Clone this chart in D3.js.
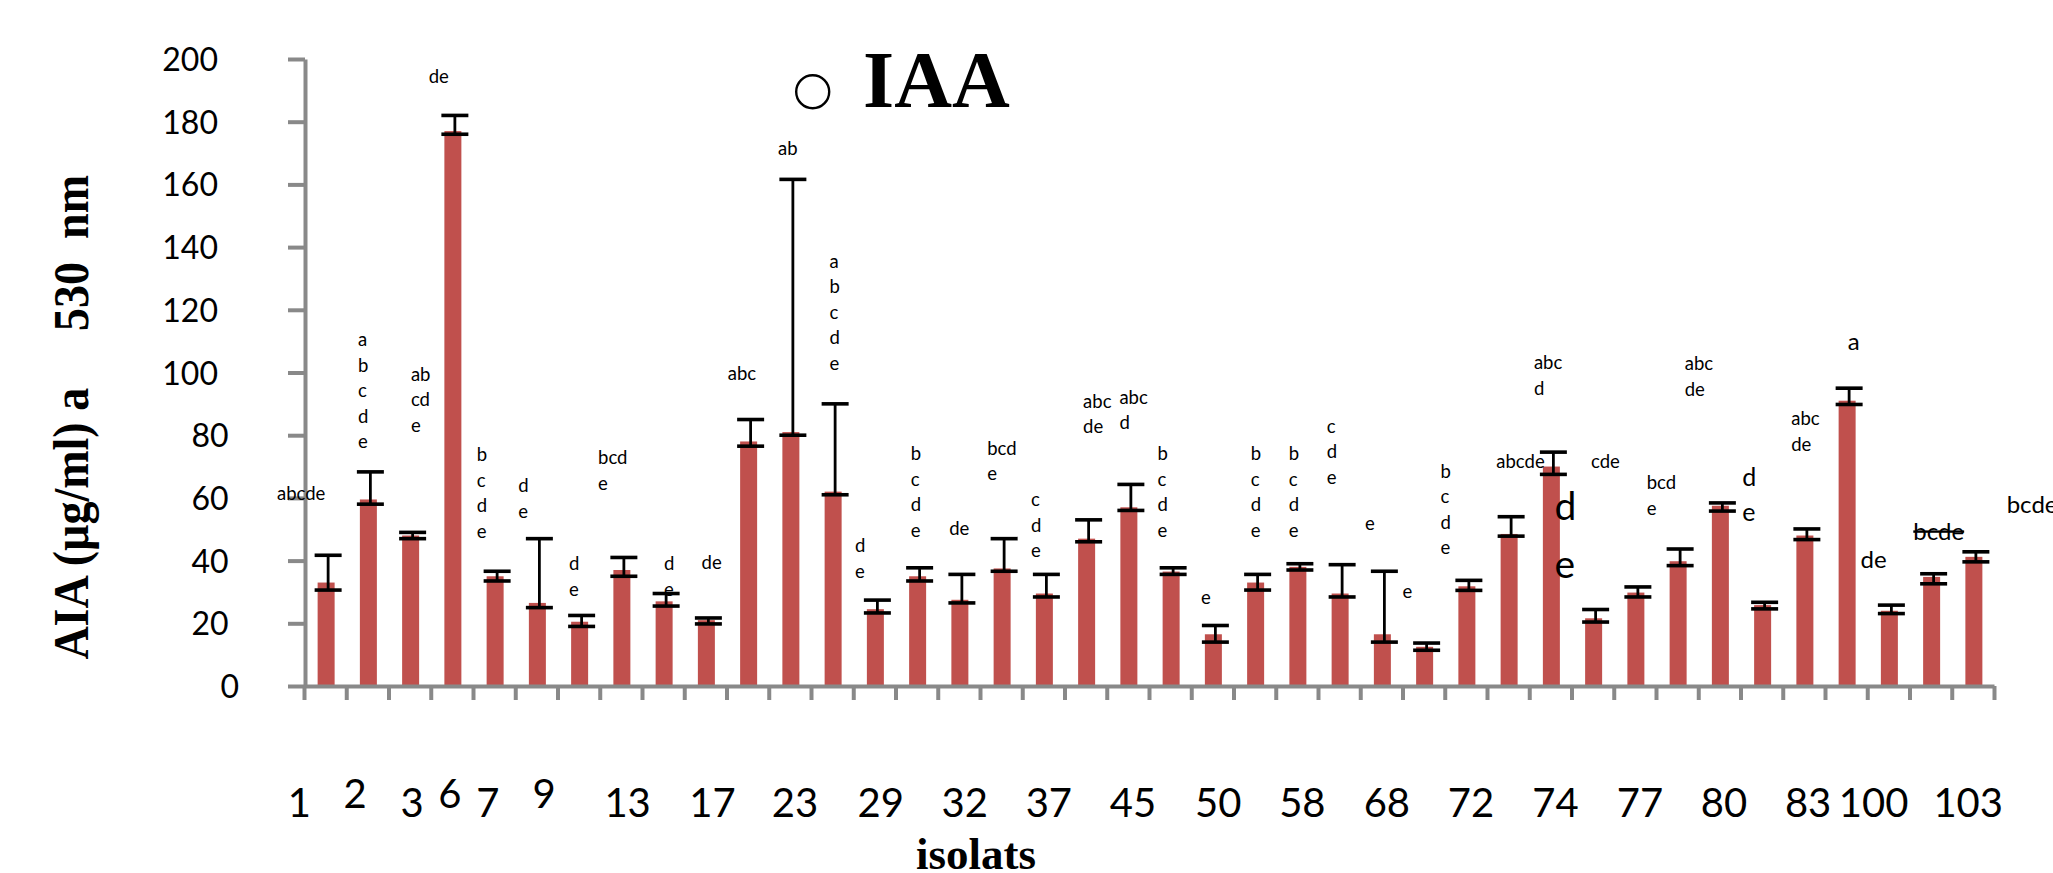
<!DOCTYPE html>
<html>
<head>
<meta charset="utf-8">
<script src="https://cdn.jsdelivr.net/npm/d3@7"></script>
<style>
  body{margin:0;background:#fff;}
  svg{display:block;}
</style>
</head>
<body>
<svg id="chart"></svg>
<script>
// bar heights and the two ends of each error bar
var values  = [33, 59.5, 48, 177, 35, 26.5, 20.5, 37, 27, 21,
               78, 81, 62, 24.5, 35, 27.5, 37.5, 29.5, 47, 57,
               36.5, 16.5, 33, 38, 29.5, 16.5, 12.5, 31.8, 48.5, 70,
               21.6, 29.8, 39.8, 57.5, 25.8, 48, 91, 24, 34.8, 41.2];
var errLow  = [30.6, 58, 47, 176, 33.5, 25, 19, 35, 25.5, 19.8,
               76.5, 80, 61, 23.3, 33.5, 26.5, 36.6, 28.4, 46, 56,
               35.6, 14, 30.6, 37, 28.4, 14, 11.4, 30.5, 47.8, 67.5,
               20.4, 28.4, 38.4, 55.8, 24.6, 46.7, 89.8, 23.1, 32.6, 39.6];
var errHigh = [41.7, 68.3, 49, 182, 36.6, 47, 22.5, 41, 29.5, 21.7,
               85, 161.6, 90, 27.4, 37.7, 35.6, 47, 35.6, 53, 64.3,
               37.7, 19.3, 35.6, 39, 38.7, 36.6, 13.7, 33.7, 54, 74.6,
               24.4, 31.6, 43.7, 58.4, 26.7, 50.1, 95, 25.8, 35.8, 42.8];

var yTicks = [0, 20, 40, 60, 80, 100, 120, 140, 160, 180, 200];

// category labels under the axis (they don't sit under every bar)
var xLabels      = ["1","2","3","6","7","9","13","17","23","29","32","37","45","50","58","68","72","74","77","80","83","100","103"];
var xLabelSlots  = [-0.11, 1.21, 2.56, 3.45, 4.35, 5.68, 7.66, 9.67, 11.62, 13.65, 15.64, 17.63, 19.62, 21.64, 23.63, 25.63, 27.62, 29.62, 31.62, 33.61, 35.6, 37.15, 39.39];
var xLabelRaised = [0,1,0,1,0,1,0,0,0,0,0,0,0,0,0,0,0,0,0,0,0,0,0];

// significance letters: text (| = new line), slot along the axis, value of first baseline, kind
var letterTexts  = ["abcde","a|b|c|d|e","ab|cd|e","de","b|c|d|e","d|e","d|e","bcd|e","d|e","de",
                    "abc","ab","a|b|c|d|e","d|e","b|c|d|e","de","bcd|e","c|d|e","abc|de","abc|d",
                    "b|c|d|e","e","b|c|d|e","b|c|d|e","c|d|e","e","e","b|c|d|e","abcde","abc|d",
                    "d|e","cde","bcd|e","d|e","abc|de","abc|de","a","de","bcde","bcde"];
var letterSlots  = [-0.64, 1.28, 2.53, 2.95, 4.09, 5.07, 6.27, 6.96, 8.52, 9.41,
                    10.03, 11.22, 12.44, 13.04, 14.36, 15.27, 16.17, 17.21, 18.44, 19.30,
                    20.20, 21.23, 22.41, 23.31, 24.21, 25.11, 26.0, 26.90, 28.22, 29.11,
                    29.60, 30.46, 31.78, 34.04, 32.68, 35.2, 36.54, 36.84, 38.09, 40.30];
var letterValues = [59.2, 108.3, 97.4, 192.5, 71.7, 61.8, 36.9, 70.7, 36.9, 37.4,
                    97.5, 169.5, 133.4, 42.7, 72.0, 48.3, 73.8, 57.4, 88.7, 90.1,
                    72.0, 26.0, 72.0, 72.0, 80.8, 49.9, 28.1, 66.4, 69.6, 101,
                    53.1, 69.6, 62.7, 63.7, 100.7, 83.1, 107.1, 37.7, 46.7, 55.2];
var letterKinds  = ["s","s","s","s","s","s","s","s","s","s",
                    "s","s","s","s","s","s","s","s","s","s",
                    "s","s","s","s","s","s","s","s","s","s",
                    "xl","s","s","l","s","s","m","m","strike","m"];

var kindStyle = {
  s:      {size: 18.5, step: 25.5},
  m:      {size: 24,   step: 30},
  strike: {size: 24,   step: 30},
  l:      {size: 25,   step: 35},
  xl:     {size: 39,   step: 58}
};

var width = 2053, height = 873;
var margins = {left: 304, right: 59, top: 59, bot: 187};
var axisColor = "#898989";
var sansFont = "Lato, 'Open Sans', sans-serif";
var serifFont = "'Liberation Serif', 'Times New Roman', serif";

var svg = d3.select("#chart")
            .attr("width", width)
            .attr("height", height);

var xBand = d3.scaleBand()
              .domain(d3.range(values.length))
              .range([margins.left, width - margins.right])
              .padding(0);
var xSlot = d3.scaleLinear()
              .domain([0, values.length])
              .range([margins.left, width - margins.right]);
var yScale = d3.scaleLinear()
               .domain([0, 200])
               .range([height - margins.bot, margins.top]);

// bars
var barW = 17;
svg.append("g")
   .selectAll("rect")
   .data(values)
   .enter()
   .append("rect")
   .attr("x", function(d, i){ return xBand(i) + xBand.bandwidth()/2 + 1 - barW/2; })
   .attr("y", function(d){ return yScale(d); })
   .attr("width", barW)
   .attr("height", function(d){ return yScale(0) - yScale(d); })
   .attr("fill", "#C0504D");

// y axis
var yAxis = d3.axisLeft(yScale)
              .tickValues(yTicks)
              .tickSize(17)
              .tickSizeOuter(0)
              .tickPadding(0);
var gy = svg.append("g")
            .attr("transform", "translate(" + (margins.left + 1) + ",0)")
            .call(yAxis);
gy.select(".domain").attr("stroke", axisColor).attr("stroke-width", 4);
gy.selectAll(".tick line").attr("stroke", axisColor).attr("stroke-width", 4);
gy.selectAll(".tick text")
  .attr("font-family", sansFont)
  .attr("font-size", 32)
  .attr("fill", "#000")
  .attr("x", function(d){ return -66 - 10.5 * (String(d).length - 1); })
  .attr("dy", "0.36em");

// x axis, ticks at every category boundary
var xAxis = d3.axisBottom(xSlot)
              .tickValues(d3.range(values.length + 1))
              .tickSize(14)
              .tickSizeOuter(0)
              .tickFormat("");
var gx = svg.append("g")
            .attr("transform", "translate(0," + yScale(0) + ")")
            .call(xAxis);
gx.select(".domain").attr("stroke", axisColor).attr("stroke-width", 4);
gx.selectAll(".tick line").attr("stroke", axisColor).attr("stroke-width", 4);

// error bars
var capW = 27;
var eb = svg.append("g").attr("stroke", "#000");
values.forEach(function(d, i){
  var cx = xBand(i) + xBand.bandwidth()/2 + 3;
  eb.append("line")
    .attr("x1", cx).attr("x2", cx)
    .attr("y1", yScale(errLow[i])).attr("y2", yScale(errHigh[i]))
    .attr("stroke-width", 2.8);
  [errLow[i], errHigh[i]].forEach(function(v){
    eb.append("line")
      .attr("x1", cx - capW/2).attr("x2", cx + capW/2)
      .attr("y1", yScale(v)).attr("y2", yScale(v))
      .attr("stroke-width", 3.6);
  });
});

// category labels
svg.append("g")
   .selectAll("text")
   .data(xLabels)
   .enter()
   .append("text")
   .attr("x", function(d, i){ return xSlot(xLabelSlots[i]); })
   .attr("y", function(d, i){ return xLabelRaised[i] ? 808 : 817; })
   .attr("text-anchor", "middle")
   .attr("font-family", sansFont)
   .attr("font-size", 40)
   .text(function(d){ return d; });

// significance letters
var lg = svg.append("g").attr("font-family", sansFont).attr("fill", "#000");
letterTexts.forEach(function(t, i){
  var st = kindStyle[letterKinds[i]];
  var txt = lg.append("text")
              .attr("x", xSlot(letterSlots[i]))
              .attr("y", yScale(letterValues[i]))
              .attr("font-size", st.size);
  if(letterKinds[i] == "strike"){
    txt.attr("text-decoration", "line-through");
  }
  t.split("|").forEach(function(line, j){
    txt.append("tspan")
       .attr("x", xSlot(letterSlots[i]))
       .attr("dy", j == 0 ? 0 : st.step)
       .text(line);
  });
});

// legend
svg.append("circle")
   .attr("cx", 812.7).attr("cy", 91.7).attr("r", 16.5)
   .attr("fill", "none").attr("stroke", "#000").attr("stroke-width", 2.4);
svg.append("text")
   .attr("x", 863).attr("y", 106.7)
   .attr("font-family", serifFont).attr("font-weight", "bold")
   .attr("font-size", 80)
   .text("IAA");

// axis titles
var yt = svg.append("text")
            .attr("transform", "translate(88,659.6) rotate(-90) scale(1,1.08)")
            .attr("font-family", serifFont).attr("font-weight", "bold")
            .attr("font-size", 46);
yt.append("tspan").text("AIA (\u00b5g/ml) a");
yt.append("tspan").attr("dx", 57).text("530");
yt.append("tspan").attr("dx", 23).text("nm");

svg.append("text")
   .attr("x", 976).attr("y", 869)
   .attr("text-anchor", "middle")
   .attr("font-family", serifFont).attr("font-weight", "bold")
   .attr("font-size", 45)
   .text("isolats");
</script>
</body>
</html>
